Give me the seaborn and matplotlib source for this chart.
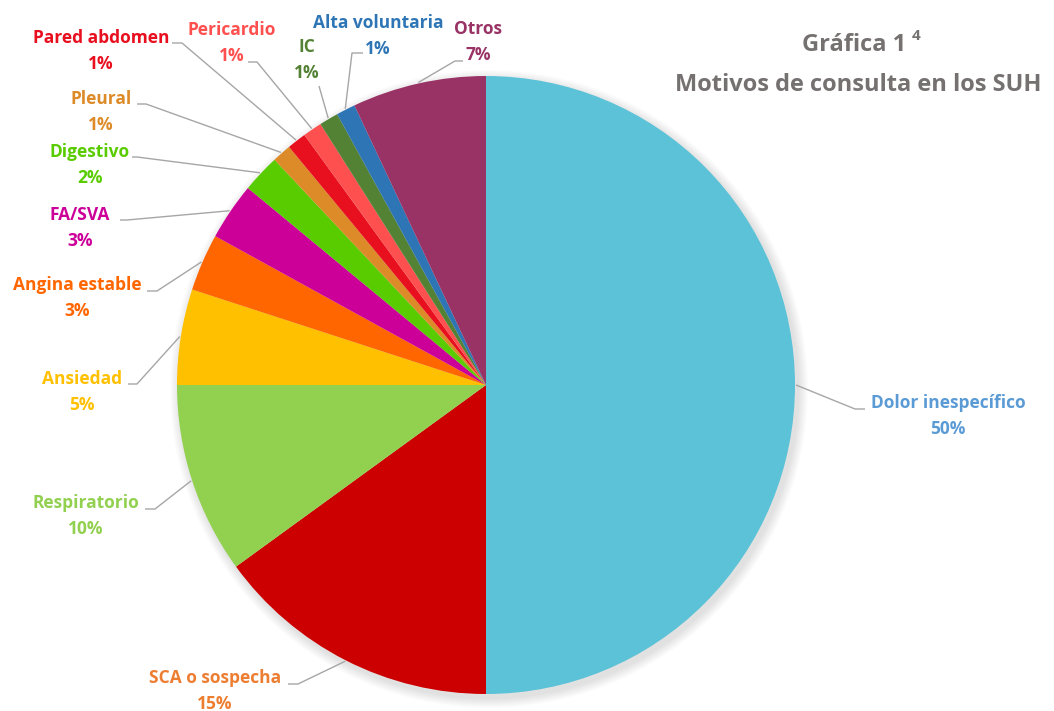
import matplotlib
matplotlib.use("Agg")
import matplotlib.pyplot as plt
import matplotlib.patches as mpatches
import numpy as np
import seaborn as sns

# Motivos de consulta (porcentaje)
categorias = ["Dolor inespecífico", "SCA o sospecha", "Respiratorio", "Ansiedad",
              "Angina estable", "FA/SVA", "Digestivo", "Pleural", "Pared abdomen",
              "Pericardio", "IC", "Alta voluntaria", "Otros"]
valores = [50, 15, 10, 5, 3, 3, 2, 1, 1, 1, 1, 1, 7]

colores_sector = ["#5BC2D7", "#CC0000", "#92D050", "#FFC000", "#FF6600", "#CC0099",
                  "#59CC00", "#DD8B28", "#E8101F", "#FF5050", "#548235", "#2E75B6",
                  "#993366"]
colores_texto = ["#5B9BD5", "#ED7D31", "#92D050", "#FFC000", "#FF6600", "#CC0099",
                 "#59CC00", "#DD8B28", "#E8101F", "#FF5050", "#548235", "#2E75B6",
                 "#993366"]

titulo = "Gráfica 1"
superindice = "4"
subtitulo = "Motivos de consulta en los SUH"

# Layout in pixel units (figure is 1054 x 711 px)
centro = (486, 385)
radio = 309
# centre of the category line of each label
pos_etiqueta = [(948, 403), (215, 678), (86, 503), (82, 379), (77, 285), (80, 215),
                (90, 152), (101, 99), (101, 38), (232, 30), (307, 47), (378, 23),
                (478, 29)]
# elbow of each leader line and the end of its short horizontal run
codo = [(855, 409), (298, 684), (155, 509), (137, 384), (157, 291), (127, 220),
        (137, 157), (146, 104), (182, 43), (257, 62), (319, 86), (352, 53),
        (455, 61)]
fin_h = [865, 288, 145, 128, 147, 120, 132, 137, 172, 248, 319, 363, 463]

sns.set_theme(style="white")
plt.rcParams["font.family"] = ["Open Sans", "DejaVu Sans"]

fig = plt.figure(figsize=(10.54, 7.11), dpi=100)
ax = fig.add_axes([0, 0, 1, 1])

palette = sns.color_palette(colores_sector)

# soft drop shadow under the pie
for i in range(10):
    ax.add_patch(mpatches.Circle((centro[0] + 3, centro[1] + 4), radio + 10 - i,
                                 facecolor="black", edgecolor="none",
                                 alpha=0.012, zorder=0))

wedges, _ = ax.pie(valores, colors=palette, startangle=-90, counterclock=True,
                   center=centro, radius=radio, frame=True,
                   wedgeprops=dict(linewidth=0, zorder=2))

ax.set_xlim(0, 1054)
ax.set_ylim(711, 0)
ax.set_aspect("equal")
ax.axis("off")

for w, nombre, v, col, (tx, ty), (ex, ey), hx in zip(
        wedges, categorias, valores, colores_texto, pos_etiqueta, codo, fin_h):
    ang = np.deg2rad((w.theta1 + w.theta2) / 2)
    sx = centro[0] + (radio + 1) * np.cos(ang)
    sy = centro[1] + (radio + 1) * np.sin(ang)
    ax.plot([sx, ex, hx], [sy, ey, ey], color="#A6A6A6", lw=1.0,
            solid_capstyle="butt", zorder=1)
    ax.text(tx, ty, nombre, color=col, fontsize=12.5, fontweight="bold",
            ha="center", va="center", zorder=3)
    ax.text(tx, ty + 26, f"{v}%", color=col, fontsize=12.5, fontweight="bold",
            ha="center", va="center", zorder=3)

ax.text(906, 45, titulo, color="#767171", fontsize=17, fontweight="bold",
        ha="right", va="center")
ax.text(916, 36, superindice, color="#767171", fontsize=11, fontweight="bold",
        ha="center", va="center")
ax.text(858, 85, subtitulo, color="#767171", fontsize=17, fontweight="bold",
        ha="center", va="center")

fig.savefig("out.png", dpi=100)
